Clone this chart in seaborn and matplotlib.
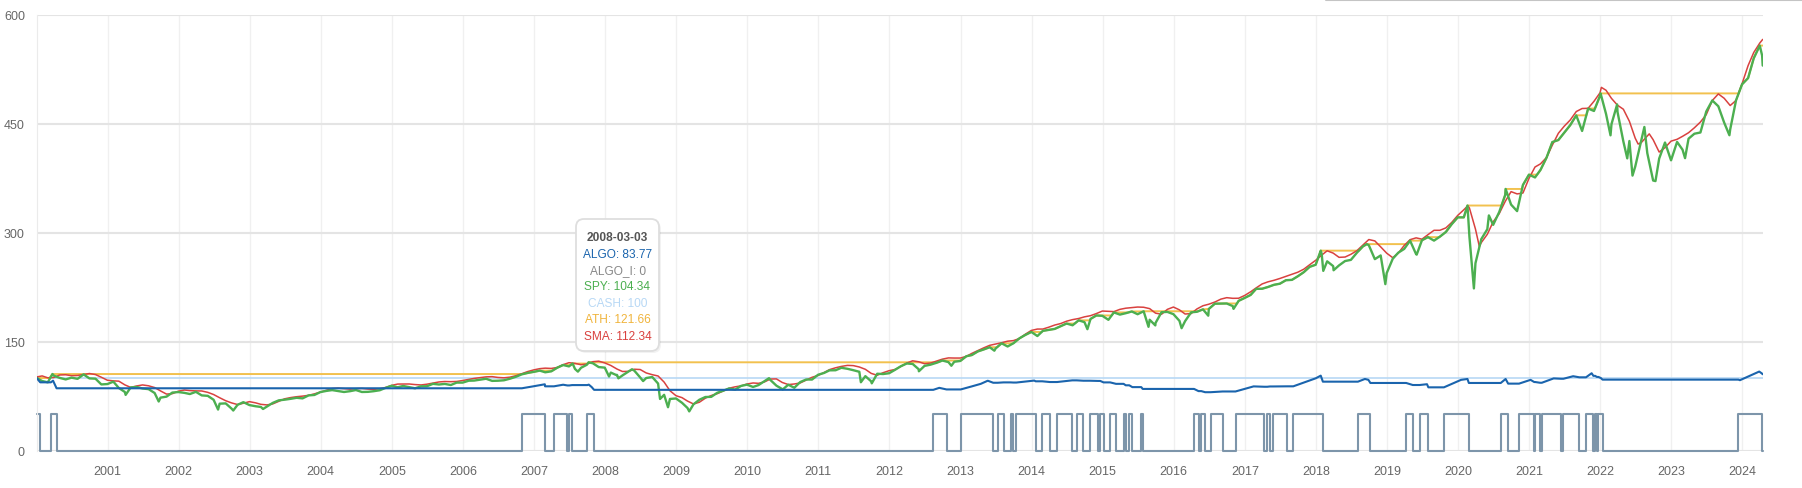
import pandas as pd
import matplotlib.pyplot as plt
import seaborn as sns
from matplotlib.patches import FancyBboxPatch
from matplotlib.lines import Line2D
from matplotlib.transforms import IdentityTransform

sns.set_style("white")
plt.rcParams["font.family"] = ["Liberation Sans", "DejaVu Sans"]

# SPY, month-end values Jan 2000 .. Mar 2024 (start = 100)
spy_monthly = [
    95.9, 94.1, 103.3, 100.2, 98.1, 100.5, 98.9, 105.0, 99.5, 99.1, 91.2, 91.7,
    95.0, 86.3, 80.8, 87.1, 87.7, 85.6, 84.7, 79.4, 73.0, 74.4, 80.0, 80.7,
    79.6, 78.0, 81.0, 76.1, 75.5, 70.1, 64.7, 65.1, 58.0, 63.1, 66.8, 62.8,
    61.2, 60.2, 60.8, 65.8, 69.3, 70.2, 71.4, 72.8, 72.0, 76.1, 76.7, 80.7,
    82.3, 83.4, 82.1, 80.8, 81.9, 83.5, 80.8, 81.0, 81.9, 83.2, 86.5, 89.4,
    87.3, 89.1, 87.5, 85.9, 88.6, 88.7, 92.0, 91.1, 91.9, 90.4, 93.7, 93.7,
    96.3, 96.5, 97.7, 99.0, 96.1, 96.3, 96.9, 99.1, 101.7, 105.1, 107.0, 108.5,
    110.2, 107.9, 109.2, 114.1, 117.9, 116.0, 112.5, 114.1, 118.3, 120.3, 115.1, 114.3,
    107.5, 104.0, 103.6, 108.7, 110.1, 100.8, 100.0, 101.4, 92.4, 76.9, 71.2, 71.9,
    65.9, 58.8, 63.9, 70.1, 73.9, 74.1, 79.7, 82.6, 85.7, 84.1, 89.1, 90.9,
    87.7, 90.3, 95.8, 97.3, 89.5, 84.8, 90.8, 86.6, 94.4, 98.0, 97.9, 104.5,
    107.0, 110.6, 110.7, 114.1, 112.7, 110.8, 108.6, 102.6, 95.4, 105.9, 105.5, 106.6,
    111.4, 116.2, 120.0, 119.4, 112.1, 116.7, 118.4, 121.0, 124.1, 121.9, 122.4, 123.5,
    130.0, 131.6, 136.6, 139.3, 142.4, 140.6, 147.8, 143.4, 147.9, 154.7, 159.3, 163.4,
    157.8, 164.9, 166.3, 167.6, 171.4, 175.0, 172.6, 179.4, 176.9, 181.3, 186.1, 185.6,
    180.1, 190.3, 187.3, 189.2, 191.6, 187.8, 191.9, 180.2, 175.7, 190.6, 191.0, 187.9,
    178.7, 178.3, 190.4, 191.2, 194.5, 195.1, 202.3, 202.5, 202.6, 199.0, 206.2, 210.2,
    214.4, 222.7, 222.9, 225.3, 228.3, 229.8, 234.6, 235.1, 240.0, 245.7, 253.0, 255.9,
    270.7, 260.6, 254.0, 255.0, 261.0, 262.6, 272.5, 281.2, 282.8, 263.6, 268.7, 244.4,
    264.1, 272.4, 277.7, 289.1, 270.5, 289.6, 293.9, 289.1, 294.5, 301.0, 311.7, 321.1,
    321.1, 294.5, 258.0, 291.2, 304.8, 310.8, 328.4, 352.0, 338.7, 329.7, 365.7, 379.9,
    376.0, 386.3, 403.1, 424.7, 427.5, 437.5, 448.0, 461.5, 440.0, 470.9, 467.5, 488.4,
    463.4, 449.4, 466.1, 425.6, 426.2, 391.0, 427.1, 409.5, 371.8, 402.0, 424.1, 399.6,
    424.9, 414.3, 429.4, 436.2, 437.9, 466.8, 482.0, 474.0, 451.5, 442.1, 482.2, 504.2,
    512.8, 540.1, 557.5,
]

# SPY, extra days (start, peaks and troughs between month ends)
spy_extra_dates = [
    "2000-01-03", "2000-03-24", "2001-04-04", "2001-09-21", "2002-07-23", "2002-10-09",
    "2003-03-11", "2007-07-19", "2007-08-15", "2007-10-09", "2008-01-22", "2008-03-03",
    "2008-03-10", "2008-05-19", "2008-07-15", "2008-10-10", "2008-11-20", "2009-03-09",
    "2010-04-23", "2010-07-02", "2011-08-08", "2011-10-03", "2012-06-01", "2012-11-15",
    "2013-06-24", "2014-10-15", "2015-08-25", "2015-09-29", "2016-02-11", "2016-06-27",
    "2016-11-04", "2018-01-26", "2018-02-08", "2018-04-02", "2018-09-20", "2018-12-24",
    "2019-06-03", "2020-02-19", "2020-03-23", "2020-06-08", "2020-09-02", "2022-01-03",
    "2022-02-23", "2022-03-29", "2022-05-20", "2022-06-16", "2022-08-16", "2022-10-12",
    "2023-03-13", "2023-10-27", "2024-04-12", "2024-04-15",
]
spy_extra_values = [
    100.0, 105.5, 76.8, 67.7, 56.6, 55.3,
    57.4, 119.9, 108.8, 121.66, 102.1, 104.34,
    99.6, 112.1, 95.8, 71.2, 59.8, 54.1,
    99.8, 84.2, 94.2, 92.7, 109.3, 116.9,
    137.6, 167.2, 170.5, 172.4, 168.6, 185.8,
    195.2, 275.3, 247.5, 248.3, 284.3, 229.2,
    269.8, 337.4, 223.3, 323.8, 360.2, 491.7,
    434.0, 476.5, 402.3, 378.6, 445.5, 371.0,
    402.6, 434.1, 543.8, 530.0,
]

# SMA, month-end values Jan 2000 .. Mar 2024
sma_monthly = [
    102.9, 100.3, 100.7, 104.2, 104.5, 103.2, 103.5, 104.9, 106.2, 104.8, 101.1, 97.0,
    96.1, 95.7, 90.6, 87.1, 89.1, 90.5, 89.3, 86.9, 82.3, 77.9, 78.5, 81.9,
    83.5, 82.7, 82.3, 82.2, 80.3, 77.3, 72.9, 68.8, 65.8, 63.5, 65.3, 67.5,
    65.9, 63.8, 63.0, 64.4, 68.0, 71.4, 73.1, 74.3, 75.1, 76.2, 78.2, 80.7,
    83.3, 85.5, 86.1, 85.4, 84.7, 85.3, 85.7, 84.8, 84.4, 85.3, 87.0, 89.9,
    91.7, 91.8, 91.8, 91.0, 90.5, 91.5, 93.1, 94.6, 95.2, 95.0, 95.3, 96.6,
    98.1, 99.5, 100.6, 101.6, 101.9, 100.8, 100.3, 101.2, 103.2, 106.0, 108.9, 111.2,
    112.9, 113.6, 113.2, 114.5, 118.4, 121.1, 120.2, 118.3, 119.3, 122.5, 123.2, 120.8,
    117.3, 112.7, 109.0, 109.2, 112.1, 111.7, 107.0, 104.6, 102.8, 94.4, 82.5, 75.7,
    73.0, 68.3, 64.3, 66.7, 72.3, 75.9, 78.5, 82.2, 86.0, 87.9, 89.2, 91.8,
    93.2, 92.7, 94.7, 98.6, 98.8, 93.9, 91.0, 91.8, 93.2, 97.1, 101.0, 103.6,
    107.6, 111.6, 114.1, 116.0, 117.4, 117.1, 115.2, 112.0, 106.4, 103.8, 107.3, 110.1,
    111.8, 115.9, 120.6, 123.7, 122.4, 119.7, 120.6, 123.4, 126.0, 127.7, 127.5, 127.5,
    129.8, 133.9, 137.7, 141.5, 145.0, 146.8, 148.6, 150.7, 151.5, 154.4, 160.3, 165.5,
    167.4, 167.4, 170.0, 172.9, 175.0, 178.2, 180.4, 181.9, 184.2, 185.8, 188.7, 192.2,
    191.7, 191.4, 194.5, 196.1, 196.9, 197.7, 197.4, 195.5, 189.3, 187.8, 194.5, 197.7,
    193.8, 188.1, 188.7, 195.1, 199.5, 201.6, 204.6, 208.6, 210.6, 209.7, 209.8, 213.6,
    218.7, 224.0, 229.5, 232.4, 234.5, 237.0, 239.9, 242.9, 245.6, 249.8, 255.9, 262.0,
    269.2, 275.1, 271.9, 266.1, 266.5, 270.3, 275.3, 283.1, 290.6, 288.7, 280.5, 271.8,
    265.6, 271.7, 282.5, 290.4, 292.9, 291.1, 297.3, 303.3, 303.3, 306.6, 314.1, 323.8,
    331.5, 334.0, 305.0, 286.4, 297.8, 315.0, 326.2, 343.1, 356.5, 353.4, 354.6, 374.7,
    390.4, 394.7, 403.4, 420.5, 436.8, 446.5, 455.1, 466.7, 470.9, 471.2, 480.8, 492.5,
    496.0, 484.8, 475.4, 469.9, 453.3, 430.0, 424.0, 433.0, 428.0, 411.0, 417.0, 426.0,
    428.5, 432.6, 437.6, 444.4, 452.3, 462.5, 481.9, 491.0, 485.0, 475.0, 482.0, 505.0,
    530.0, 548.0, 561.0,
]
sma_extra_dates = ["2000-01-03", "2008-03-03", "2020-02-21", "2020-04-20",
                   "2022-01-07", "2022-07-15", "2022-09-10", "2024-04-15"]
sma_extra_values = [101.5, 112.34, 337.0, 281.0, 500.0, 422.0, 436.0, 566.0]

# all-time high: record days plus the day each flat stretch is broken
ath_dates = [
    "2000-01-03", "2000-03-08", "2000-03-24", "2006-11-05", "2006-11-30", "2006-12-31",
    "2007-01-31", "2007-04-06", "2007-04-30", "2007-05-31", "2007-07-09", "2007-07-19",
    "2007-10-04", "2007-10-09", "2012-09-06", "2012-09-30", "2013-01-03", "2013-01-31",
    "2013-02-28", "2013-03-31", "2013-04-30", "2013-05-31", "2013-07-08", "2013-07-31",
    "2013-09-29", "2013-09-30", "2013-10-31", "2013-11-30", "2013-12-31", "2014-02-22",
    "2014-02-28", "2014-03-31", "2014-04-30", "2014-05-31", "2014-06-30", "2014-08-11",
    "2014-08-31", "2014-10-29", "2014-10-31", "2014-11-30", "2015-02-17", "2015-02-28",
    "2015-05-14", "2015-05-31", "2015-07-29", "2015-07-31", "2016-05-07", "2016-05-31",
    "2016-06-30", "2016-07-31", "2016-08-31", "2016-09-30", "2016-11-22", "2016-11-30",
    "2016-12-31", "2017-01-31", "2017-02-28", "2017-03-31", "2017-04-30", "2017-05-31",
    "2017-06-30", "2017-07-31", "2017-08-31", "2017-09-30", "2017-10-31", "2017-11-30",
    "2017-12-31", "2018-01-26", "2018-08-10", "2018-08-31", "2018-09-20", "2019-04-17",
    "2019-04-30", "2019-06-29", "2019-06-30", "2019-07-31", "2019-09-27", "2019-09-30",
    "2019-10-31", "2019-11-30", "2019-12-31", "2020-02-01", "2020-02-19", "2020-08-12",
    "2020-08-31", "2020-09-02", "2020-11-25", "2020-11-30", "2020-12-31", "2021-02-11",
    "2021-02-28", "2021-03-31", "2021-04-30", "2021-05-31", "2021-06-30", "2021-07-31",
    "2021-08-31", "2021-10-22", "2021-10-31", "2021-12-05", "2021-12-31", "2022-01-03",
    "2023-12-13", "2023-12-31", "2024-01-31", "2024-02-29", "2024-03-31", "2024-04-15",
]
ath_values = [
    100.0, 100.0, 105.5, 105.5, 107.0, 108.5,
    110.2, 110.2, 114.1, 117.9, 117.9, 119.9,
    119.9, 121.66, 121.66, 124.1, 124.1, 130.0,
    131.6, 136.6, 139.3, 142.4, 142.4, 147.8,
    147.8, 147.9, 154.7, 159.3, 163.4, 163.4,
    164.9, 166.3, 167.6, 171.4, 175.0, 175.0,
    179.4, 179.4, 181.3, 186.1, 186.1, 190.3,
    190.3, 191.6, 191.6, 191.9, 191.9, 194.5,
    195.1, 202.3, 202.5, 202.6, 202.6, 206.2,
    210.2, 214.4, 222.7, 222.9, 225.3, 228.3,
    229.8, 234.6, 235.1, 240.0, 245.7, 253.0,
    255.9, 275.3, 275.3, 281.2, 284.3, 284.3,
    289.1, 289.1, 289.6, 293.9, 293.9, 294.5,
    301.0, 311.7, 321.1, 321.1, 337.4, 337.4,
    352.0, 360.2, 360.2, 365.7, 379.9, 379.9,
    386.3, 403.1, 424.7, 427.5, 437.5, 448.0,
    461.5, 461.5, 470.9, 470.9, 488.4, 491.7,
    491.7, 504.2, 512.8, 540.1, 557.5, 557.5,
]

# strategy equity curve
algo_dates = [
    "2000-01-03", "2000-01-21", "2000-03-16", "2000-03-27", "2000-04-14",
    "2006-10-31", "2006-12-29", "2007-02-26", "2007-02-27", "2007-04-14",
    "2007-05-31", "2007-06-22", "2007-07-02", "2007-07-16", "2007-10-02",
    "2007-10-10", "2007-10-25", "2007-11-06", "2012-08-14", "2012-09-14",
    "2012-10-21", "2013-01-02", "2013-02-28", "2013-04-15", "2013-05-21",
    "2013-06-18", "2013-07-11", "2013-08-10", "2013-09-15", "2013-09-29",
    "2013-10-15", "2014-01-15", "2014-01-22", "2014-02-25", "2014-04-05",
    "2014-05-12", "2014-07-29", "2014-08-21", "2014-09-24", "2014-10-28",
    "2014-12-09", "2014-12-20", "2015-01-06", "2015-02-09", "2015-03-11",
    "2015-04-19", "2015-04-30", "2015-05-18", "2015-06-03", "2015-07-19",
    "2015-07-26", "2016-04-15", "2016-05-08", "2016-05-22", "2016-06-11",
    "2016-07-09", "2016-09-09", "2016-11-14", "2017-02-15", "2017-04-11",
    "2017-04-26", "2017-05-10", "2017-05-26", "2017-08-08", "2017-09-07",
    "2017-12-31", "2018-01-26", "2018-02-06", "2018-08-05", "2018-09-10",
    "2018-09-28", "2018-10-08", "2019-04-10", "2019-05-14", "2019-06-18",
    "2019-07-26", "2019-08-02", "2019-10-21", "2020-01-17", "2020-02-19",
    "2020-02-26", "2020-08-08", "2020-09-02", "2020-09-15", "2020-11-10",
    "2021-01-08", "2021-01-27", "2021-02-01", "2021-02-26", "2021-03-07",
    "2021-05-07", "2021-06-14", "2021-06-26", "2021-08-15", "2021-09-16",
    "2021-10-20", "2021-11-18", "2021-11-27", "2021-12-06", "2021-12-15",
    "2021-12-23", "2022-01-04", "2022-01-13", "2023-12-12", "2023-12-20",
    "2024-03-28", "2024-04-10", "2024-04-15",
]
algo_values = [
    100.0, 94.1, 94.1, 96.4, 85.9,
    85.9, 88.6, 91.4, 88.6, 88.6,
    90.8, 89.8, 89.8, 90.3, 90.3,
    90.9, 87.5, 83.77, 83.77, 86.5,
    84.3, 84.3, 88.5, 92.0, 96.3,
    93.5, 93.5, 94.0, 94.0, 93.8,
    93.8, 96.5, 95.5, 95.5, 94.5,
    94.5, 96.8, 96.8, 96.3, 96.3,
    96.0, 96.0, 94.0, 94.0, 92.0,
    92.0, 90.0, 90.0, 87.5, 87.5,
    85.0, 85.0, 82.0, 82.0, 80.5,
    80.5, 81.5, 81.5, 88.5, 88.0,
    88.0, 88.4, 88.4, 88.6, 88.6,
    99.6, 103.3, 95.0, 95.0, 98.7,
    97.5, 93.2, 93.2, 90.4, 90.4,
    91.5, 87.2, 87.2, 97.5, 98.7,
    93.2, 93.2, 98.7, 92.3, 92.3,
    97.5, 94.5, 94.5, 93.5, 93.5,
    99.5, 99.0, 99.0, 102.5, 101.0,
    101.0, 106.6, 103.0, 103.0, 101.5,
    101.5, 100.0, 97.8, 97.8, 97.0,
    108.9, 106.5, 105.2,
]

# in-market flag (drawn at 50 when invested), value holds until next date
algo_i_dates = [
    "2000-01-03", "2000-01-21", "2000-03-16", "2000-04-14", "2006-10-31", "2007-02-27",
    "2007-04-14", "2007-06-22", "2007-07-02", "2007-07-16", "2007-10-02", "2007-11-06",
    "2012-08-14", "2012-10-21", "2013-01-02", "2013-06-18", "2013-07-11", "2013-08-10",
    "2013-09-15", "2013-09-29", "2013-10-15", "2014-01-22", "2014-02-25", "2014-04-05",
    "2014-05-12", "2014-07-29", "2014-08-21", "2014-09-24", "2014-10-28", "2014-12-09",
    "2014-12-20", "2015-01-06", "2015-02-09", "2015-03-11", "2015-04-19", "2015-04-30",
    "2015-05-18", "2015-06-03", "2015-07-19", "2015-07-26", "2016-04-15", "2016-05-08",
    "2016-05-22", "2016-06-11", "2016-07-09", "2016-09-09", "2016-11-14", "2017-04-11",
    "2017-04-26", "2017-05-10", "2017-05-26", "2017-08-08", "2017-09-07", "2018-02-06",
    "2018-08-05", "2018-10-08", "2019-04-10", "2019-05-14", "2019-06-18", "2019-08-02",
    "2019-10-21", "2020-02-26", "2020-08-08", "2020-09-15", "2020-11-10", "2021-01-27",
    "2021-02-01", "2021-02-26", "2021-03-07", "2021-06-14", "2021-06-26", "2021-09-16",
    "2021-10-20", "2021-11-27", "2021-12-06", "2021-12-15", "2021-12-23", "2022-01-13",
    "2023-12-12", "2024-04-10", "2024-04-15",
]
algo_i_values = [
    50, 0, 50, 0, 50, 0,
    50, 0, 50, 0, 50, 0,
    50, 0, 50, 0, 50, 0,
    50, 0, 50, 0, 50, 0,
    50, 0, 50, 0, 50, 0,
    50, 0, 50, 0, 50, 0,
    50, 0, 50, 0, 50, 0,
    50, 0, 50, 0, 50, 0,
    50, 0, 50, 0, 50, 0,
    50, 0, 50, 0, 50, 0,
    50, 0, 50, 0, 50, 0,
    50, 0, 50, 0, 50, 0,
    50, 0, 50, 0, 50, 0,
    50, 0, 0,
]

cash_dates = ["2000-01-03", "2024-04-15"]
cash_values = [100, 100]

year_ticks = list(range(2001, 2025))
y_ticks = [0, 150, 300, 450, 600]

tooltip_date = "2008-03-03"
tooltip_rows = ["ALGO: 83.77", "ALGO_I: 0", "SPY: 104.34", "CASH: 100", "ATH: 121.66", "SMA: 112.34"]

c_algo = "#1a64ad"
c_algo_i = "#7d95aa"
c_spy = "#4caf50"
c_cash = "#b7d8f5"
c_ath = "#f2c14e"
c_sma = "#d9413f"


def frame(dates, values):
    return pd.DataFrame({"date": pd.to_datetime(dates), "value": values})


spy_me = pd.date_range("2000-01-31", periods=len(spy_monthly), freq=pd.offsets.MonthEnd())
sma_me = pd.date_range("2000-01-31", periods=len(sma_monthly), freq=pd.offsets.MonthEnd())
spy = pd.concat([frame(spy_me, spy_monthly), frame(spy_extra_dates, spy_extra_values)]).sort_values("date")
sma = pd.concat([frame(sma_me, sma_monthly), frame(sma_extra_dates, sma_extra_values)]).sort_values("date")
ath = frame(ath_dates, ath_values)
algo = frame(algo_dates, algo_values)
algo_i = frame(algo_i_dates, algo_i_values)
cash = frame(cash_dates, cash_values)

W, H = 1802, 489
fig, ax = plt.subplots(figsize=(W / 100, H / 100), dpi=100)
fig.subplots_adjust(left=36.7 / W, right=1762.7 / W, bottom=1 - 451.7 / H, top=1 - 15.7 / H)

common = dict(x="date", y="value", ax=ax, estimator=None, errorbar=None)
sns.lineplot(data=algo_i, color=c_algo_i, lw=1.5, drawstyle="steps-post", zorder=2, clip_on=False, **common)
sns.lineplot(data=cash, color=c_cash, lw=1.2, zorder=2.5, **common)
sns.lineplot(data=ath, color=c_ath, lw=1.4, zorder=3, **common)
sns.lineplot(data=sma, color=c_sma, lw=1.1, zorder=3.5, **common)
sns.lineplot(data=spy, color=c_spy, lw=1.7, zorder=4, **common)
sns.lineplot(data=algo, color=c_algo, lw=1.5, zorder=5, **common)

ax.set_xlim(pd.Timestamp(cash_dates[0]), pd.Timestamp(cash_dates[-1]))
ax.set_ylim(0, 600)
ax.set_yticks(y_ticks)
ax.set_xticks([pd.Timestamp(f"{y}-01-01") for y in year_ticks])
ax.set_xticklabels([str(y) for y in year_ticks])
ax.set_xlabel("")
ax.set_ylabel("")

ax.set_axisbelow(True)
ax.grid(axis="y", color="#e4e4e4", lw=1.5)
ax.grid(axis="x", color="#f0f0f0", lw=1.0)
ax.tick_params(axis="x", length=7.5, width=1.0, color="#f0f0f0", pad=3,
               labelsize=9, labelcolor="#666666")
ax.tick_params(axis="y", length=0, pad=8.5, labelsize=9, labelcolor="#666666")
for side in ["top", "right", "bottom"]:
    ax.spines[side].set_visible(False)
ax.spines["left"].set_color("#ebebeb")

# tooltip box (pixel coordinates)
shadow = FancyBboxPatch((578, 135), 83, 132, boxstyle="round,pad=0,rounding_size=8",
                        transform=IdentityTransform(), facecolor="#000000", alpha=0.05,
                        edgecolor="none", zorder=9)
box = FancyBboxPatch((576, 137), 83, 132, boxstyle="round,pad=0,rounding_size=8",
                     transform=IdentityTransform(), facecolor="white",
                     edgecolor="#dedede", lw=1.3, zorder=10)
fig.add_artist(shadow)
fig.add_artist(box)

tx = 617.5 / W
fig.text(tx, 1 - 238 / H, tooltip_date, ha="center", va="center", fontsize=8.6,
         fontweight="bold", color="#555555", zorder=11)
row_colors = [c_algo, "#888888", c_spy, c_cash, "#f0b43c", c_sma]
for i, (row, col) in enumerate(zip(tooltip_rows, row_colors)):
    fig.text(tx, 1 - (254.6 + 16.4 * i) / H, row, ha="center", va="center",
             fontsize=8.6, color=col, zorder=11)

fig.add_artist(Line2D([1326 / W, 1.0], [0.998, 0.998], color="#c4c4c4", lw=1.5))

fig.savefig("out.png", dpi=100)
